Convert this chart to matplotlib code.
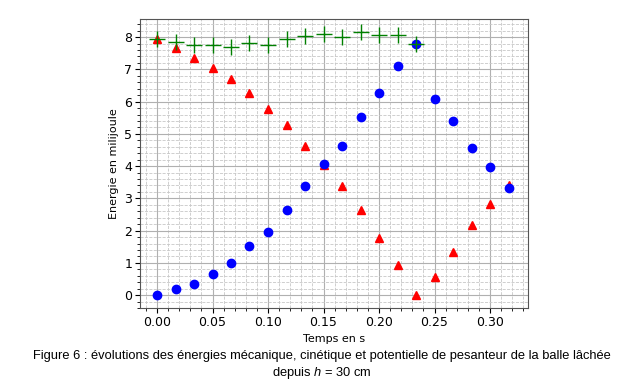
import matplotlib.pyplot as plt
from matplotlib.ticker import MultipleLocator

# temps (s), une image sur 60
t = [0.0, 0.0167, 0.0333, 0.05, 0.0667, 0.0833, 0.1, 0.1167, 0.1333, 0.15,
     0.1667, 0.1833, 0.2, 0.2167, 0.2333, 0.25, 0.2667, 0.2833, 0.3, 0.3167]
ec = [0.0, 0.18, 0.35, 0.66, 0.99, 1.52, 1.96, 2.65, 3.38, 4.05,
      4.63, 5.53, 6.28, 7.1, 7.78, 6.09, 5.39, 4.55, 3.98, 3.31]
ep = [7.93, 7.67, 7.36, 7.05, 6.69, 6.26, 5.76, 5.27, 4.63, 4.04,
      3.38, 2.64, 1.76, 0.94, 0.01, 0.56, 1.34, 2.16, 2.82, 3.40]
em = [7.93, 7.86, 7.75, 7.75, 7.70, 7.82, 7.75, 7.93, 8.03, 8.11,
      7.99, 8.16, 8.06, 8.06, 7.78]

plt.rcParams['mathtext.fontset'] = 'custom'
plt.rcParams['mathtext.it'] = 'Liberation Sans:italic'
plt.rcParams['mathtext.rm'] = 'Liberation Sans'

fig = plt.figure(figsize=(6.24, 3.81), dpi=100)
ax = fig.add_axes([0.2244, 0.1916, 0.6218, 0.7584])

ax.plot(t, ep, '^', color='red', markersize=6)
ax.plot(t, ec, 'o', color='blue', markersize=6)
ax.plot(t[:len(em)], em, '+', color='green', markersize=12, markeredgewidth=1.0)

ax.set_xlim(-0.0153, 0.3342)
ax.set_ylim(-0.4, 8.56)
ax.xaxis.set_major_locator(MultipleLocator(0.05))
ax.xaxis.set_minor_locator(MultipleLocator(0.01))
ax.yaxis.set_major_locator(MultipleLocator(1))
ax.yaxis.set_minor_locator(MultipleLocator(0.2))
ax.grid(which='major', color='#b0b0b0', linewidth=0.8)
ax.grid(which='minor', color='#c8c8c8', linestyle='--', linewidth=0.6)
ax.set_axisbelow(True)
ax.tick_params(labelsize=9, pad=2)
for s in ax.spines.values():
    s.set_color('#555555')

ax.set_xlabel('Temps en s', fontsize=8)
ax.set_ylabel('Energie en milijoule', fontsize=8)

fig.text(0.516, 0.065, 'Figure 6 : évolutions des énergies mécanique, cinétique et potentielle de pesanteur de la balle lâchée',
         ha='center', va='center', fontsize=9.25, family='Liberation Sans')
fig.text(0.516, 0.022, 'depuis $h$ = 30 cm', ha='center', va='center', fontsize=9.25, family='Liberation Sans')

fig.savefig('out.png', dpi=100)
